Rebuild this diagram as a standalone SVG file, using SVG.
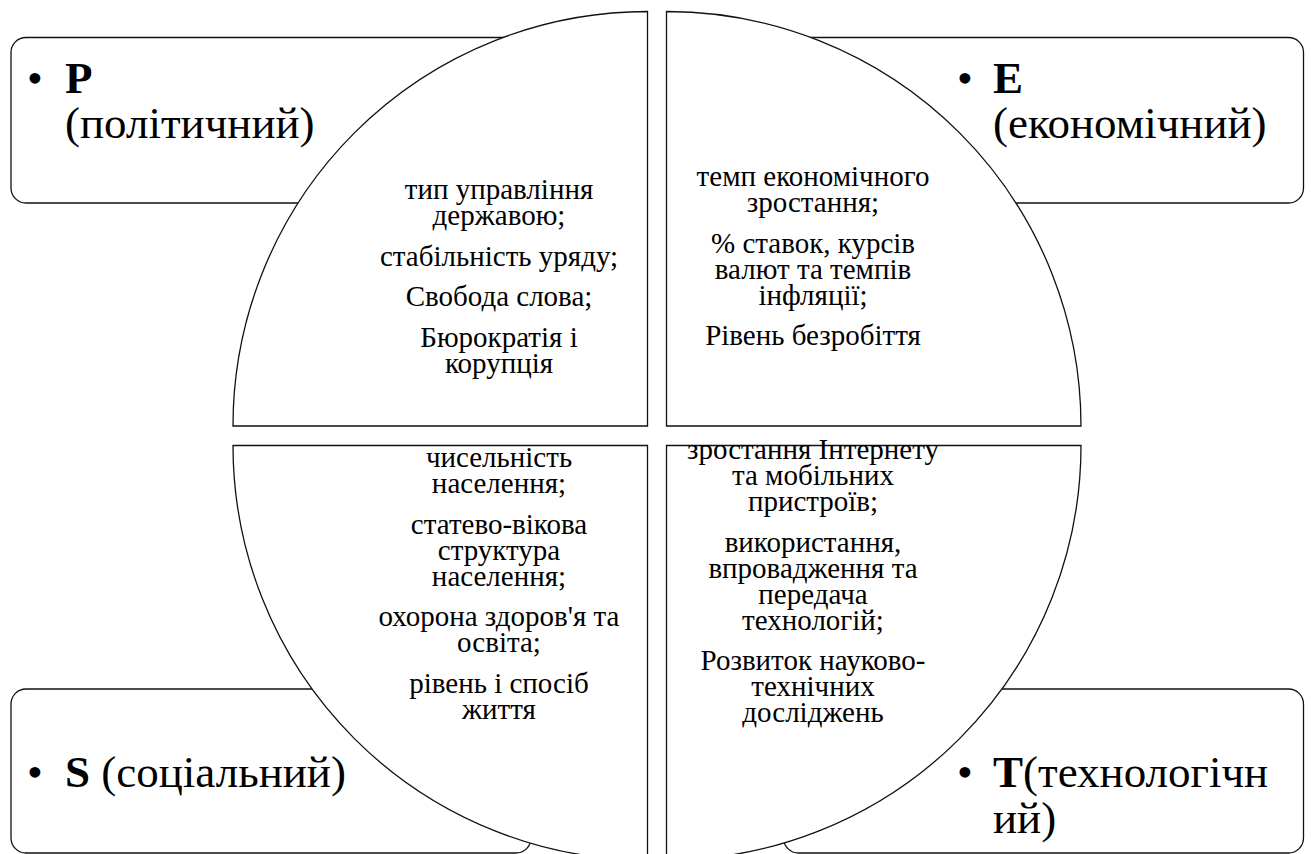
<svg xmlns="http://www.w3.org/2000/svg" width="1311" height="854" viewBox="0 0 1311 854">
<style>
.box{fill:#fff;stroke:#111;stroke-width:1.3}
.sec{fill:#fff;stroke:#111;stroke-width:1.3}
text{font-family:'Liberation Serif','Times New Roman',serif;fill:#000}
.big{font-size:45px}
.b{font-weight:bold}
.in{font-size:29px;text-anchor:middle}
</style>
<rect width="1311" height="854" fill="#fff"/>
<g id="node-P">
<rect class="box" x="11" y="37.5" width="520" height="165.5" rx="15"/>
<text class="big" x="27" y="93">•</text>
<text class="big b" x="65" y="93">P</text>
<text class="big" x="65" y="138">(політичний)</text>
</g>
<g id="node-E">
<rect class="box" x="783.5" y="37.5" width="520" height="165.5" rx="15"/>
<text class="big" x="957" y="93">•</text>
<text class="big b" x="993" y="93">E</text>
<text class="big" x="993" y="138">(економічний)</text>
</g>
<g id="node-S">
<rect class="box" x="11" y="689" width="520" height="164" rx="15"/>
<text class="big" x="27" y="787">•</text>
<text class="big" x="65" y="787"><tspan class="b">S</tspan> (соціальний)</text>
</g>
<g id="node-T">
<rect class="box" x="783.5" y="689" width="520" height="164" rx="15"/>
<text class="big" x="957" y="787">•</text>
<text class="big" x="993" y="787"><tspan class="b">T</tspan>(технологічн</text>
<text class="big" x="993" y="833">ий)</text>
</g>
<g id="sector-P">
<path class="sec" d="M647.5,426 L233,426 A414.5,414.5 0 0 1 647.5,11.5 Z"/>
<text class="in" x="499" y="199">тип управління</text>
<text class="in" x="499" y="225">державою;</text>
<text class="in" x="499" y="265.5">стабільність уряду;</text>
<text class="in" x="499" y="306">Свобода слова;</text>
<text class="in" x="499" y="346.5">Бюрократія і</text>
<text class="in" x="499" y="372.5">корупція</text>
</g>
<g id="sector-E">
<path class="sec" d="M666.5,426 L666.5,11.5 A414.5,414.5 0 0 1 1081,426 Z"/>
<text class="in" x="813" y="186">темп економічного</text>
<text class="in" x="813" y="212">зростання;</text>
<text class="in" x="813" y="252.5">% ставок, курсів</text>
<text class="in" x="813" y="278.5">валют та темпів</text>
<text class="in" x="813" y="304.5">інфляції;</text>
<text class="in" x="813" y="345">Рівень безробіття</text>
</g>
<g id="sector-S">
<path class="sec" d="M647.5,445.5 L647.5,860 A414.5,414.5 0 0 1 233,445.5 Z"/>
<text class="in" x="499" y="467">чисельність</text>
<text class="in" x="499" y="493">населення;</text>
<text class="in" x="499" y="533.5">статево-вікова</text>
<text class="in" x="499" y="559.5">структура</text>
<text class="in" x="499" y="585.5">населення;</text>
<text class="in" x="499" y="626">охорона здоров'я та</text>
<text class="in" x="499" y="652">освіта;</text>
<text class="in" x="499" y="692.5">рівень і спосіб</text>
<text class="in" x="499" y="718.5">життя</text>
</g>
<g id="sector-T">
<path class="sec" d="M666.5,445.5 L1081,445.5 A414.5,414.5 0 0 1 666.5,860 Z"/>
<text class="in" x="813" y="459">зростання Інтернету</text>
<text class="in" x="813" y="485">та мобільних</text>
<text class="in" x="813" y="511">пристроїв;</text>
<text class="in" x="813" y="551.5">використання,</text>
<text class="in" x="813" y="577.5">впровадження та</text>
<text class="in" x="813" y="603.5">передача</text>
<text class="in" x="813" y="629.5">технологій;</text>
<text class="in" x="813" y="670">Розвиток науково-</text>
<text class="in" x="813" y="696">технічних</text>
<text class="in" x="813" y="722">досліджень</text>
</g>
<g id="connectors"/>
</svg>
